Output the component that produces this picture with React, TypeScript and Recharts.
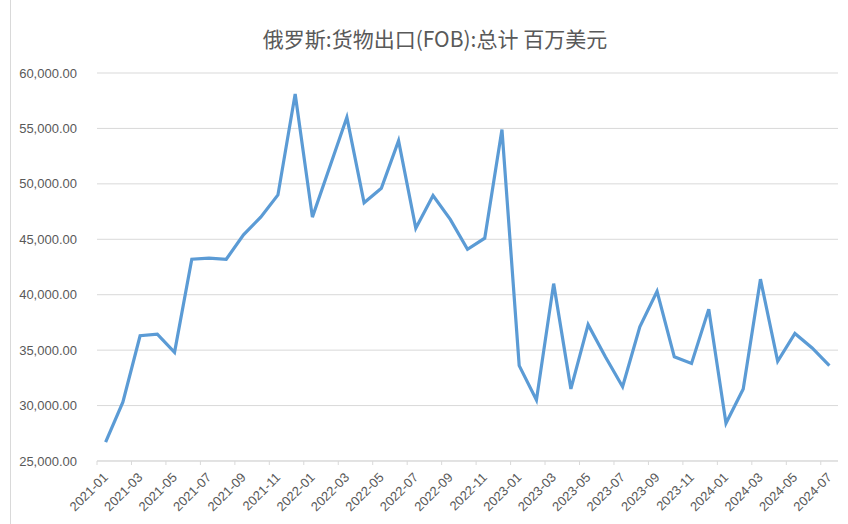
import { LineChart, Line, XAxis, YAxis, CartesianGrid } from "recharts";

const months = [
  "2021-01", "2021-02", "2021-03", "2021-04", "2021-05", "2021-06", "2021-07", "2021-08", "2021-09", "2021-10", "2021-11", "2021-12",
  "2022-01", "2022-02", "2022-03", "2022-04", "2022-05", "2022-06", "2022-07", "2022-08", "2022-09", "2022-10", "2022-11", "2022-12",
  "2023-01", "2023-02", "2023-03", "2023-04", "2023-05", "2023-06", "2023-07", "2023-08", "2023-09", "2023-10", "2023-11", "2023-12",
  "2024-01", "2024-02", "2024-03", "2024-04", "2024-05", "2024-06", "2024-07",
];

const exportsFob = [
  26700, 30300, 36300, 36450, 34800, 43200, 43300, 43200, 45400, 47000, 49000, 58100,
  47000, 51500, 56000, 48300, 49600, 53900, 46000, 48950, 46800, 44100, 45100, 54900,
  33600, 30500, 41000, 31500, 37300, 34400, 31700, 37100, 40300, 34400, 33800, 38700,
  28400, 31500, 41400, 34000, 36500, 35200, 33600,
];

const yTicks = [25000, 30000, 35000, 40000, 45000, 50000, 55000, 60000];

// tick marks sit between categories, every second month
const xTicks = months.filter((_, i) => i % 2 === 0).map((_, k) => k * 2 - 0.5);

const data = months.map((m, i) => ({ idx: i, month: m, value: exportsFob[i] }));

const font = "'Liberation Sans', 'Noto Sans CJK SC', sans-serif";
const grey = "#595959";

function MonthTick(props: any) {
  const { x, y, payload } = props;
  const label = months[payload.value + 0.5];
  if (!label) return null;
  const step = 741.5 / 43;
  return (
    <g transform={`translate(${x + step / 2}, ${y + 8})`}>
      <text
        transform="rotate(-45)"
        textAnchor="end"
        dy="0.35em"
        fontSize={13}
        fontFamily={font}
        fill={grey}
      >
        {label}
      </text>
    </g>
  );
}

export default function App() {
  return (
    <div style={{ position: "absolute", left: 0, top: 0, width: 848, height: 524, background: "#fff" }}>
      <div style={{ position: "absolute", left: 10, top: 0, width: 1, height: 524, background: "#d9d9d9" }} />
      <div
        style={{
          position: "absolute",
          left: 0,
          top: 24,
          width: 870,
          textAlign: "center",
          fontSize: 21,
          color: grey,
          fontFamily: "'Noto Sans CJK SC', sans-serif",
          lineHeight: "28px",
        }}
      >
        俄罗斯:货物出口(FOB):总计 百万美元
      </div>
      <LineChart width={848} height={524} data={data} margin={{ top: 73, right: 10, left: 0, bottom: 0 }}>
        <CartesianGrid horizontal vertical={false} stroke="#d9d9d9" />
        <XAxis
          dataKey="idx"
          type="number"
          domain={[-0.5, 42.5]}
          ticks={xTicks}
          interval={0}
          height={63}
          stroke="#d9d9d9"
          tickSize={4}
          tick={<MonthTick />}
        />
        <YAxis
          domain={[25000, 60000]}
          ticks={yTicks}
          width={97}
          axisLine={false}
          tickLine={false}
          tickMargin={14}
          tick={{ fontSize: 13, fill: grey, fontFamily: font }}
          tickFormatter={(v: number) =>
            v.toLocaleString("en-US", { minimumFractionDigits: 2, maximumFractionDigits: 2 })
          }
        />
        <Line
          type="linear"
          dataKey="value"
          stroke="#5b9bd5"
          strokeWidth={3.2}
          dot={false}
          isAnimationActive={false}
        />
      </LineChart>
    </div>
  );
}
